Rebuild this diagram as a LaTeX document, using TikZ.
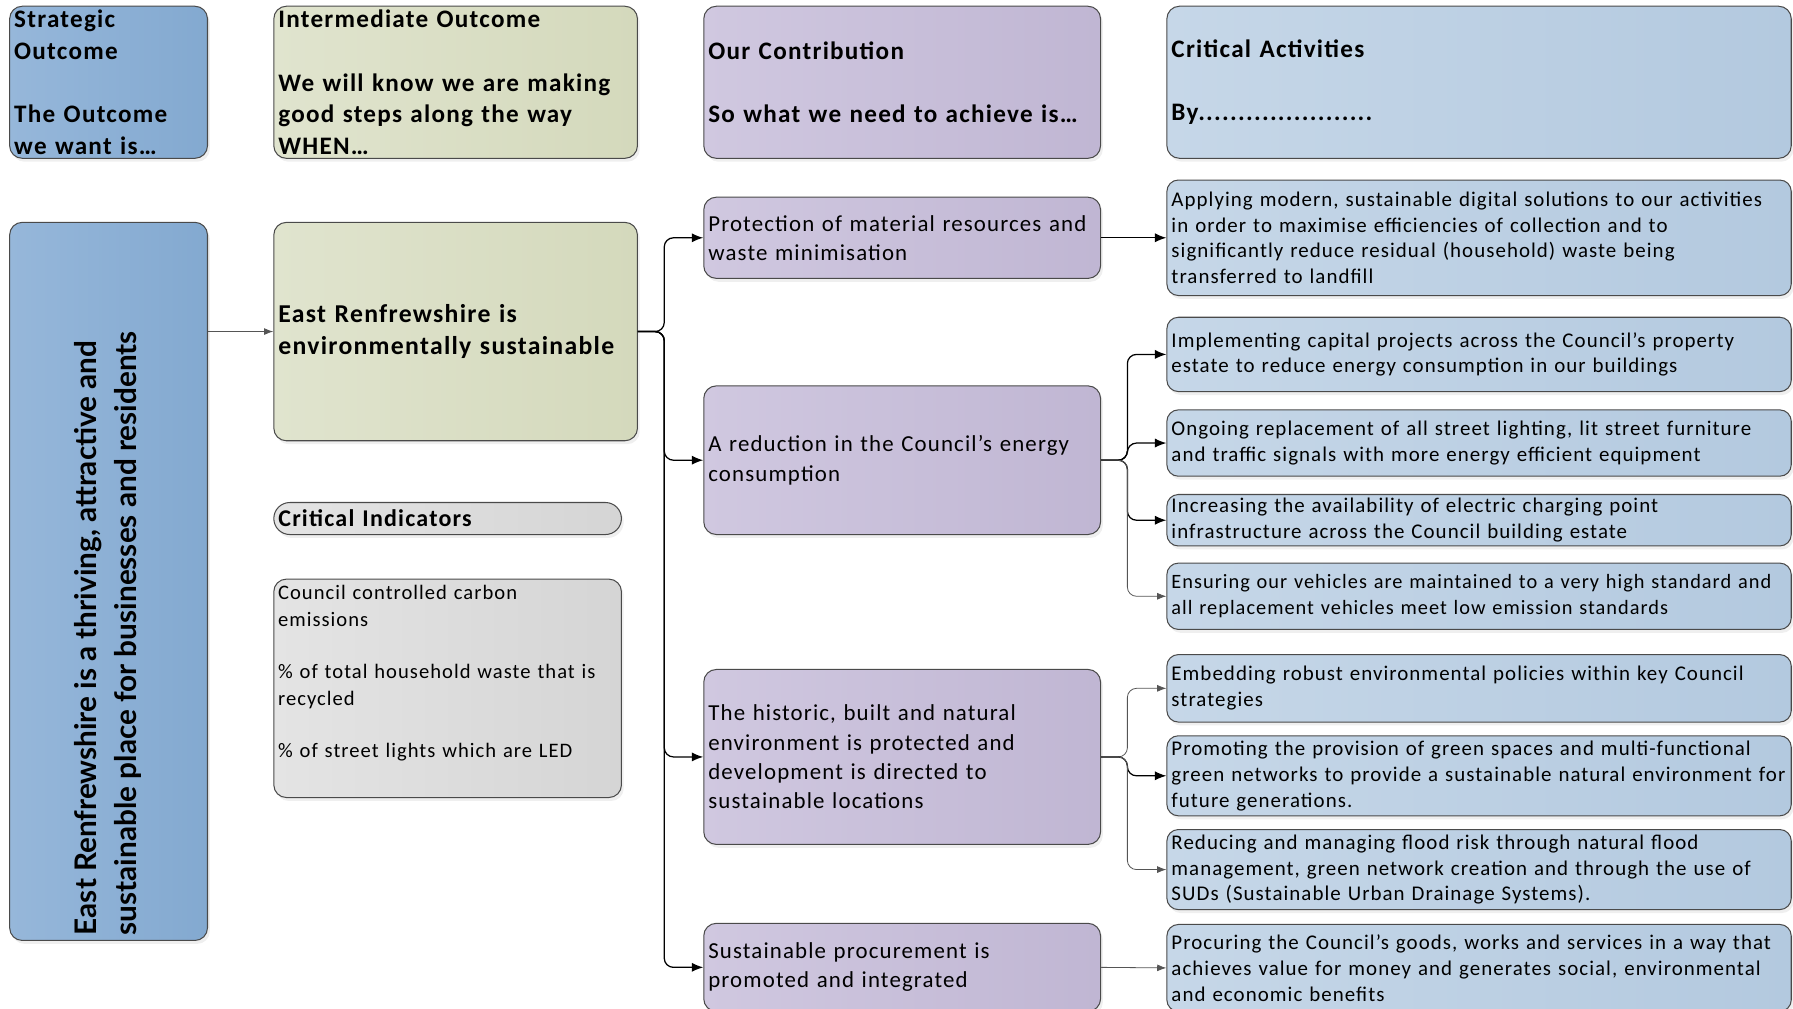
\documentclass[tikz,border=0pt]{standalone}
\usepackage{fontspec}
\setmainfont[LetterSpace=5]{Carlito}
\newfontfamily\rotfont{Lato}
\usetikzlibrary{arrows.meta,shadows}
\definecolor{bordc}{HTML}{4A4A4A}
\definecolor{stratL}{HTML}{96B7DA}
\definecolor{stratR}{HTML}{83A9D0}
\definecolor{greenL}{HTML}{E0E4CE}
\definecolor{greenR}{HTML}{D4D9BC}
\definecolor{purpL}{HTML}{D0C8E0}
\definecolor{purpR}{HTML}{C0B6D3}
\definecolor{actL}{HTML}{C6D7E8}
\definecolor{actR}{HTML}{B3C9DF}
\definecolor{grayL}{HTML}{E4E4E4}
\definecolor{grayR}{HTML}{D5D5D5}
\definecolor{thinc}{HTML}{555555}
\tikzset{
  box/.style={draw=bordc, line width=0.9pt, rounded corners=11pt, anchor=north west,
    align=left, inner xsep=4pt, inner ysep=0pt, text=black,
    drop shadow={shadow xshift=2pt, shadow yshift=-3pt, opacity=0.13}},
  stratfill/.style={left color=stratL, right color=stratR},
  greenfill/.style={left color=greenL, right color=greenR},
  purpfill/.style={left color=purpL, right color=purpR},
  actfill/.style={left color=actL, right color=actR},
  grayfill/.style={left color=grayL, right color=grayR},
  hdrfont/.style={font=\fontsize{22}{27.7}\selectfont\bfseries},
  confont/.style={font=\fontsize{20}{25.6}\selectfont},
  actfont/.style={font=\fontsize{18.3}{22.6}\selectfont},
  actbox/.style={box, actfill, actfont, minimum width=546pt, text width=538pt, rounded corners=10pt},
  conbox/.style={box, purpfill, confont, minimum width=347pt, text width=339pt},
  conn/.style={-{Latex[length=10pt,width=8pt]}, line width=1.1pt, black, rounded corners=8pt},
  connthin/.style={-{Latex[length=8pt,width=6pt]}, line width=0.7pt, thinc, rounded corners=8pt}
}
\begin{document}
\begin{tikzpicture}[x=1pt,y=-1pt]
\useasboundingbox (0,0) rectangle (1568,882);
\clip (0,0) rectangle (1568,882);
% header row
\node[box, stratfill, hdrfont, minimum width=173pt, minimum height=133pt, text width=165pt] (strat) at (8,5)
  {Strategic\\Outcome\\[27.7pt]The Outcome\\we want is\ldots};
\node[box, greenfill, hdrfont, minimum width=318pt, minimum height=133pt, text width=310pt] (interH) at (239,5)
  {Intermediate Outcome\\[27.7pt]We will know we are making\\good steps along the way\\WHEN\ldots};
\node[box, purpfill, hdrfont, minimum width=347pt, minimum height=133pt, text width=339pt] (contH) at (615,5)
  {Our Contribution\\[27.7pt]So what we need to achieve is\ldots};
\node[box, actfill, hdrfont, minimum width=546pt, minimum height=133pt, text width=538pt] (actH) at (1020,5)
  {Critical Activities\\[27.7pt]By......................};
% strategic outcome
\node[box, stratfill, minimum width=173pt, minimum height=628pt] (big) at (8,194) {};
\node[rotate=90, anchor=west, align=left, inner sep=0pt, font=\rotfont\fontsize{26}{35}\selectfont\bfseries] (bigtxt) at (94,818)
  {East Renfrewshire is a thriving, attractive and\\sustainable place for businesses and residents};
% intermediate
\node[box, greenfill, font=\fontsize{22.5}{27.5}\selectfont\bfseries, minimum width=318pt, minimum height=191pt, text width=310pt] (inter) at (239,194)
  {East Renfrewshire is\\environmentally sustainable};
\node[box, grayfill, rounded corners=14pt, font=\fontsize{21}{24}\selectfont\bfseries, minimum width=304pt, minimum height=28pt, text width=296pt] (citl) at (239,439)
  {Critical Indicators};
\node[box, grayfill, minimum width=304pt, minimum height=191pt] (ind) at (239,506) {};
\node[anchor=north west, align=left, inner xsep=4pt, inner ysep=0pt, text width=296pt, font=\fontsize{18}{23}\selectfont] (indtxt) at (239,512)
  {Council controlled carbon\\emissions\\[23pt]\% of total household waste that is\\recycled\\[23pt]\% of street lights which are LED};
% contributions
\node[conbox, minimum height=71pt] (prot) at (615,172)
  {Protection of material resources and\\waste minimisation};
\node[conbox, minimum height=130pt] (red) at (615,337)
  {A reduction in the Council’s energy\\consumption};
\node[conbox, minimum height=153pt] (hist) at (615,585)
  {The historic, built and natural\\environment is protected and\\development is directed to\\sustainable locations};
\node[conbox, minimum height=77pt] (proc) at (615,807)
  {Sustainable procurement is\\promoted and integrated};
% activities
\node[actbox, minimum height=101pt] (a1) at (1020,157)
  {Applying modern, sustainable digital solutions to our activities\\in order to maximise efficiencies of collection and to\\significantly reduce residual (household) waste being\\transferred to landfill};
\node[actbox, minimum height=65pt] (a2) at (1020,277)
  {Implementing capital projects across the Council’s property\\estate to reduce energy consumption in our buildings};
\node[actbox, minimum height=58pt] (a3) at (1020,358)
  {Ongoing replacement of all street lighting, lit street furniture\\and traffic signals with more energy efficient equipment};
\node[actbox, minimum height=45pt] (a4) at (1020,432)
  {Increasing the availability of electric charging point\\infrastructure across the Council building estate};
\node[actbox, font=\fontsize{17.8}{22.6}\selectfont, minimum height=58pt] (a5) at (1020,492)
  {Ensuring our vehicles are maintained to a very high standard and\\all replacement vehicles meet low emission standards};
\node[actbox, minimum height=59pt] (a6) at (1020,572)
  {Embedding robust environmental policies within key Council\\strategies};
\node[actbox, minimum height=70pt] (a7) at (1020,643)
  {Promoting the provision of green spaces and multi-functional\\green networks to provide a sustainable natural environment for\\future generations.};
\node[actbox, minimum height=70pt] (a8) at (1020,725)
  {Reducing and managing flood risk through natural flood\\management, green network creation and through the use of\\SUDs (Sustainable Urban Drainage Systems).};
\node[actbox, minimum height=76pt] (a9) at (1020,808)
  {Procuring the Council’s goods, works and services in a way that\\achieves value for money and generates social, environmental\\and economic benefits};
% connectors
\draw[connthin] (big.east |- inter.west) -- (inter.west);
\draw[conn] (inter.east) -- ++(23,0) |- (prot.west);
\draw[conn] (inter.east) -- ++(23,0) |- (red.west);
\draw[conn] (inter.east) -- ++(23,0) |- (hist.west);
\draw[conn] (inter.east) -- ++(23,0) |- (proc.west);
\draw[conn] (prot.east) -- (a1.west);
\draw[conn] (red.east) -- ++(23,0) |- (a2.west);
\draw[conn] (red.east) -- ++(23,0) |- (a3.west);
\draw[conn] (red.east) -- ++(23,0) |- (a4.west);
\draw[connthin] (red.east) -- ++(23,0) |- (a5.west);
\draw[connthin] (hist.east) -- ++(23,0) |- (a6.west);
\draw[conn] (hist.east) -- ++(23,0) |- (a7.west);
\draw[connthin] (hist.east) -- ++(23,0) |- (a8.west);
\draw[connthin] (proc.east) -- (a9.west);
\end{tikzpicture}
\end{document}
